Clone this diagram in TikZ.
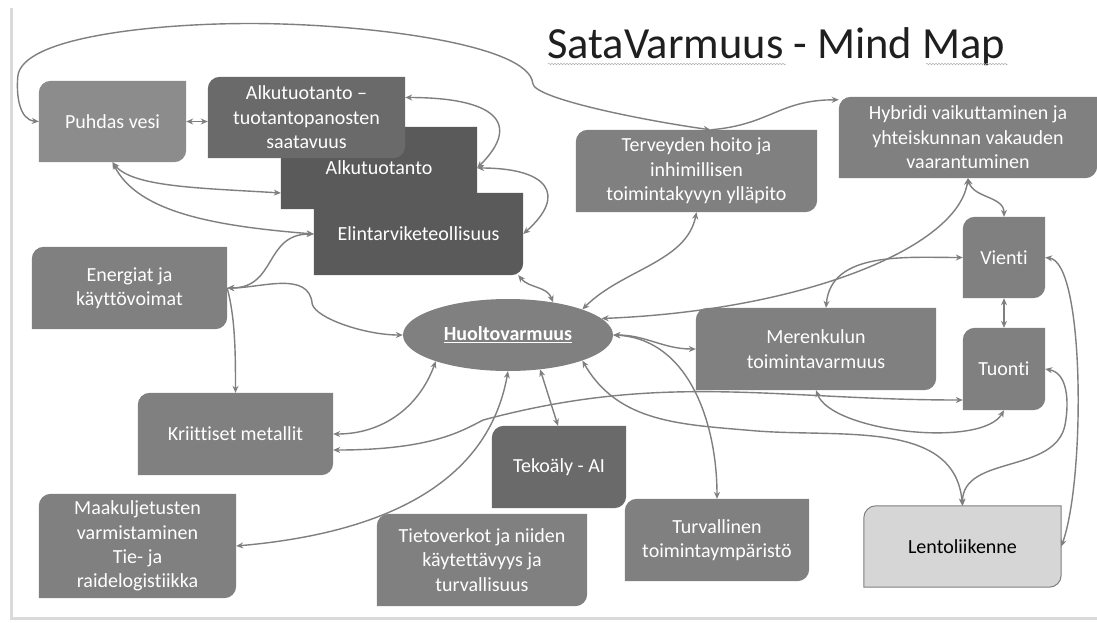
\documentclass[tikz,border=0pt]{standalone}
\usepackage{fontspec}
\setmainfont{Carlito}[Ligatures=NoCommon]
\usetikzlibrary{arrows.meta,shapes.geometric,decorations.pathmorphing}
\pgfdeclarelayer{back}
\pgfdeclarelayer{bg}
\pgfsetlayers{back,bg,main}
\definecolor{gLight}{HTML}{8C8C8C}
\definecolor{gMid}{HTML}{808080}
\definecolor{gDark}{HTML}{5A5A5A}
\definecolor{gDarkB}{HTML}{6A6A6A}
\definecolor{gPale}{HTML}{D6D6D6}
\definecolor{lc}{HTML}{7F7F7F}
\definecolor{framecol}{HTML}{DADADA}
\tikzset{
  lbl/.style={text=white, align=center, font=\fontsize{20}{24.4}\selectfont, inner sep=0pt},
  con/.style={draw=lc, line width=1.4pt, {Stealth[length=7pt,width=6pt]}-{Stealth[length=7pt,width=6pt]}},
  conend/.style={draw=lc, line width=1.4pt, -{Stealth[length=7pt,width=6pt]}},
}
% [text colour]{name}{x1}{y1}{x2}{y2}{shape style}{text}
\newcommand\mmbox[8][white]{%
  \pgfmathsetmacro\mmcx{(#3+#5)/2}%
  \pgfmathsetmacro\mmcy{-(#4+#6)/2}%
  \pgfmathsetmacro\mmw{#5-#3}%
  \pgfmathsetmacro\mmh{#6-#4}%
  \node[lbl,text=#1,minimum width=\mmw pt,minimum height=\mmh pt] (#2) at (\mmcx,\mmcy) {#8};
  \begin{pgfonlayer}{bg}
    \path[#7] ([xshift=12pt]#2.north west) -- (#2.north east) -- ([yshift=12pt]#2.south east)
      arc[start angle=0,end angle=-90,radius=12pt] -- (#2.south west) -- ([yshift=-12pt]#2.north west)
      arc[start angle=180,end angle=90,radius=12pt] -- cycle;
  \end{pgfonlayer}}
\begin{document}
\begin{tikzpicture}[x=1pt,y=1pt]
\useasboundingbox (0,0) rectangle (1097,-622);
\begin{pgfonlayer}{back}
  \fill[white] (0,0) rectangle (1097,-622);
  \draw[framecol, line width=3pt] (11,-8) -- (11,-618) -- (1097,-618);
\end{pgfonlayer}

% title
\node[font=\fontsize{44.5}{50}\selectfont, text=black!88, anchor=base west, inner sep=0pt] (title) at (547,-58) {SataVarmuus - Mind Map};
\draw[decorate, decoration={snake,amplitude=0.7pt,segment length=3pt}, gray!60, line width=0.5pt] (548,-64) -- (786,-64);
\draw[decorate, decoration={snake,amplitude=0.7pt,segment length=3pt}, gray!60, line width=0.5pt] (926,-64) -- (1008,-64);

% boxes
\mmbox{pv}{39}{81}{186}{162}{fill=gLight}{Puhdas vesi}
\mmbox{ak}{281}{127}{477}{209}{fill=gDark}{Alkutuotanto}
\mmbox{el}{314}{193}{523}{275}{fill=gDark}{Elintarviketeollisuus}
\mmbox{at}{208}{77}{405}{158}{fill=gDarkB}{Alkutuotanto –\\tuotantopanosten\\saatavuus}
\mmbox{en}{32}{247}{227}{329}{fill=gMid}{Energiat ja\\käyttövoimat}
\mmbox{kr}{138}{393}{333}{475}{fill=gMid}{Kriittiset metallit}
\mmbox{mk}{39}{494}{236}{598}{fill=gMid}{Maakuljetusten\\varmistaminen\\Tie- ja\\raidelogistiikka}
\mmbox{ti}{377}{514}{587}{606}{fill=gMid}{Tietoverkot ja niiden\\käytettävyys ja\\turvallisuus}
\mmbox{ta}{492}{426}{626}{508}{fill=gDarkB}{Tekoäly - AI}
\mmbox{tu}{625}{499}{809}{581}{fill=gMid}{Turvallinen\\toimintaympäristö}
\mmbox[black]{le}{864}{506}{1061}{587}{fill=gPale,draw=lc,line width=1pt}{Lentoliikenne}
\mmbox{tn}{963}{328}{1045}{410}{fill=gMid}{Tuonti}
\mmbox{vi}{963}{217}{1045}{298}{fill=gMid}{Vienti}
\mmbox{me}{696}{308}{936}{390}{fill=gMid}{Merenkulun\\toimintavarmuus}
\mmbox{hy}{839}{97}{1097}{178}{fill=gMid}{Hybridi vaikuttaminen ja\\yhteiskunnan vakauden\\vaarantuminen}
\mmbox{tv}{576}{130}{817}{212}{fill=gMid}{Terveyden hoito ja\\inhimillisen\\toimintakyvyn ylläpito}

\node[ellipse, fill=gMid, minimum width=210pt, minimum height=72pt, inner sep=0pt, text=white,
      font=\fontsize{20}{24}\selectfont\bfseries] (hv) at (508,-335) {\underline{Huoltovarmuus}};

% connectors
\draw[con] (pv.east) -- (pv.east -| at.west);
\draw[con] (pv.west) to[out=175,in=-95] ++(-21,45)
  to[out=85,in=180,out distance=40pt] ++(232,53)
  to[out=0,in=95,in distance=40pt] ++(283,-60)
  to[out=-85,in=172,out distance=15pt,in distance=70pt] ([xshift=14pt]tv.north);
\draw[conend] ([xshift=14pt]tv.north) .. controls +(60,5) and +(-60,0) .. ([yshift=-3pt]hy.north west);
\draw[con] ([yshift=20pt]at.east) .. controls +(90,0) and +(45,45) .. (ak.east);
\draw[con] (ak.east) .. controls +(70,0) and +(45,40) .. (el.east);
\draw[con] (pv.south) .. controls +(20,-25) and +(-80,5) .. ([yshift=-25pt]ak.west);
\draw[con] (pv.south) .. controls +(25,-50) and +(-100,8) .. (el.west);
\draw[con] (en.east) .. controls +(50,0) and +(-50,0) .. (el.west);
\draw[con] (en.east) to[out=0,in=95] ++(85,-16) to[out=-75,in=180,out distance=15pt] (hv.west);
\draw[conend] (en.east) .. controls +(8,-30) and +(0,40) .. (kr.north);
\draw[con] ([xshift=-5pt]el.south east) to[out=-50,in=110] (hv.36);
\draw[con] (tv.south) .. controls +(-10,-50) and +(40,40) .. (hv.19);
\draw[con] (hy.south) .. controls +(-10,-70) and +(200,8) .. (hv.10);
\draw[con] (hy.south) to[out=-75,in=90] (vi.north);
\draw[con] (vi.west) to[out=180,in=85] ([xshift=10pt]me.north);
\draw[con] (vi.south) -- (tn.north);
\draw[con] (vi.east) .. controls +(40,-5) and +(24,66) .. (le.east);
\draw[con] (tn.east) to[out=-10,in=80] ++(20,-55) to[out=-100,in=90] (le.north);
\draw[con] (hv.-19) to[out=-60,in=175] ++(170,-70) to[out=-5,in=95] (le.north);
\draw[con] (hv.east) to[out=0,in=180] (me.west);
\draw[con] (hv.east) to[out=-3,in=90] (tu.north);
\draw[con] (hv.-47) -- ([xshift=-1pt]ta.north);
\draw[con] (hv.200) to[out=-110,in=0] (kr.east);
\draw[con] ([yshift=-16pt]kr.east) .. controls +(100,0) and +(-20,-10) .. ++(150,30)
  to[out=15,in=180] ([yshift=-31pt]tn.west);
\draw[con] (hv.south) .. controls +(-22,-124) and +(126,11) .. (mk.east);
\draw[con] (me.south) to[out=-70,in=-120,looseness=0.6] (tn.south);
\end{tikzpicture}
\end{document}
